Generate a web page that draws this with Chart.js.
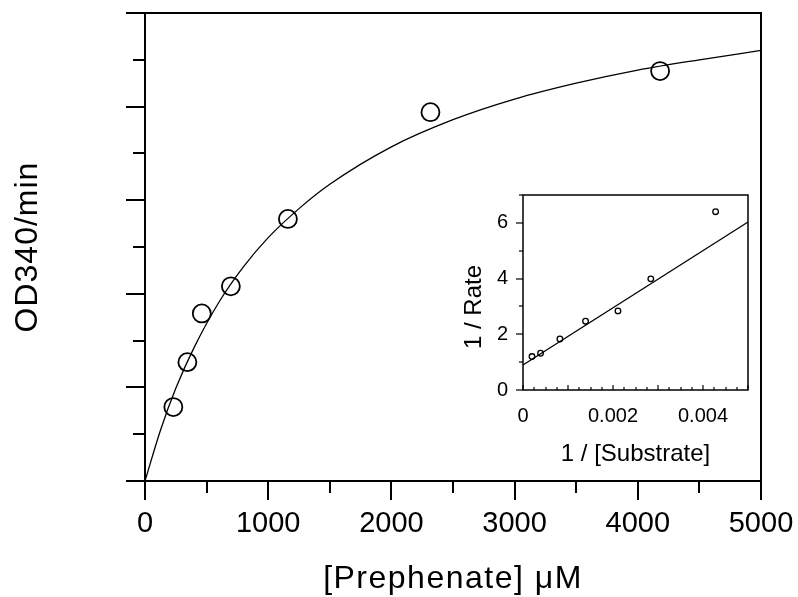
<!DOCTYPE html>
<html>
<head>
<meta charset="utf-8">
<script src="https://cdn.jsdelivr.net/npm/chart.js@4.4.1/dist/chart.umd.min.js"></script>
<style>
    body { margin: 0; background: #fff; }
    #wrap { position: relative; width: 798px; height: 597px; }
    #mainChart { position: absolute; left: 0; top: 0; }
    #insetChart { position: absolute; left: 440px; top: 180px; }
</style>
</head>
<body>
<div id="wrap">
    <canvas id="mainChart" width="798" height="597"></canvas>
    <canvas id="insetChart" width="320" height="300"></canvas>
</div>
<script>
// main plot: rate vs [Prephenate]
const prephenate = [230, 344, 461, 697, 1160, 2317, 4181];
const rate = [0.79, 1.27, 1.79, 2.08, 2.80, 3.94, 4.38];

// fitted curve
const fitX = [0, 125, 250, 400, 600, 800, 1000, 1250, 1500, 2000, 2500, 3000, 3500, 4000, 4500, 5000];
const fitY = [0, 0.54, 0.99, 1.43, 1.91, 2.29, 2.60, 2.91, 3.17, 3.57, 3.86, 4.08, 4.25, 4.39, 4.50, 4.60];

const mainXTicks = [0, 1000, 2000, 3000, 4000, 5000];

// inset: double reciprocal
const invSubstrate = [0.00020, 0.00039, 0.00082, 0.00139, 0.00211, 0.00284, 0.00428];
const invRate = [1.20, 1.32, 1.83, 2.47, 2.84, 3.99, 6.40];
const lineX = [0, 0.005];
const lineY = [0.90, 6.03];

const insetXTicks = [0, 0.002, 0.004];
const insetYTicks = [0, 2, 4, 6];

const FONT = '"Liberation Sans", Arial, sans-serif';

function pairs(xs, ys) {
    return xs.map((x, i) => ({ x: x, y: ys[i] }));
}

function drawText(ctx, text, x, y, size, rotate, spacing) {
    ctx.save();
    ctx.font = size + 'px ' + FONT;
    ctx.fillStyle = '#000';
    ctx.textAlign = 'center';
    ctx.textBaseline = 'middle';
    if (spacing) ctx.letterSpacing = spacing;
    ctx.translate(x, y);
    if (rotate) ctx.rotate(-Math.PI / 2);
    ctx.fillText(text, 0, 0);
    ctx.restore();
}

function tick(ctx, x1, y1, x2, y2) {
    ctx.beginPath();
    ctx.moveTo(x1, y1);
    ctx.lineTo(x2, y2);
    ctx.stroke();
}

const mainFrame = {
    id: 'mainFrame',
    afterDraw(chart) {
        const ctx = chart.ctx;
        const a = chart.chartArea;
        const xs = chart.scales.x, ys = chart.scales.y;
        ctx.save();
        ctx.strokeStyle = '#000';
        ctx.lineWidth = 2;
        ctx.strokeRect(a.left, a.top, a.right - a.left, a.bottom - a.top);
        for (let v = 0; v <= 5000; v += 500) {
            const px = Math.round(xs.getPixelForValue(v));
            tick(ctx, px, a.bottom, px, a.bottom + (v % 1000 === 0 ? 19 : 12));
        }
        for (let i = 0; i <= 10; i++) {
            const py = Math.round(ys.getPixelForValue(i * 0.5));
            tick(ctx, a.left, py, a.left - (i % 2 === 0 ? 19 : 12), py);
        }
        ctx.restore();
        drawText(ctx, 'OD340/min', 28, 247, 32, true, '1px');
        drawText(ctx, '[Prephenate] \u03bcM', (a.left + a.right) / 2, 579, 32, false, '1.5px');
    }
};

const insetFrame = {
    id: 'insetFrame',
    afterDraw(chart) {
        const ctx = chart.ctx;
        const a = chart.chartArea;
        const xs = chart.scales.x, ys = chart.scales.y;
        ctx.save();
        ctx.strokeStyle = '#000';
        ctx.lineWidth = 1.5;
        ctx.strokeRect(a.left, a.top, a.right - a.left, a.bottom - a.top);
        ctx.lineWidth = 1.2;
        for (let i = 0; i <= 20; i++) {
            const px = Math.round(xs.getPixelForValue(i * 0.00025));
            tick(ctx, px, a.bottom, px, a.bottom - (i % 4 === 0 ? 5 : 3));
        }
        for (let v = 0; v <= 7; v++) {
            const py = Math.round(ys.getPixelForValue(v));
            tick(ctx, a.left, py, a.left - (v % 2 === 0 ? 7 : 4), py);
        }
        ctx.restore();
        drawText(ctx, '1 / Rate', 34, 127, 24, true);
        drawText(ctx, '1 / [Substrate]', (a.left + a.right) / 2, 274, 24, false);
    }
};

new Chart(document.getElementById('mainChart').getContext('2d'), {
    type: 'scatter',
    data: {
        datasets: [
            {
                data: pairs(fitX, fitY),
                showLine: true,
                borderColor: '#000',
                borderWidth: 1.3,
                pointRadius: 0,
                cubicInterpolationMode: 'monotone'
            },
            {
                data: pairs(prephenate, rate),
                showLine: false,
                pointRadius: 9,
                pointBorderWidth: 1.8,
                pointBorderColor: '#000',
                pointBackgroundColor: '#fff'
            }
        ]
    },
    options: {
        responsive: false,
        animation: false,
        layout: { padding: { top: 13, right: 37, left: 0, bottom: 0 } },
        plugins: { legend: { display: false }, tooltip: { enabled: false } },
        scales: {
            x: {
                type: 'linear',
                min: 0,
                max: 5000,
                afterBuildTicks: s => { s.ticks = mainXTicks.map(v => ({ value: v })); },
                ticks: { color: '#000', font: { family: FONT, size: 29 }, padding: 26, maxRotation: 0,
                    callback: v => String(v) },
                grid: { display: false, drawTicks: false },
                border: { display: false },
                afterFit: s => { s.height = 116; s.paddingLeft = 0; s.paddingRight = 0; }
            },
            y: {
                min: 0,
                max: 5,
                ticks: { display: false },
                grid: { display: false, drawTicks: false },
                border: { display: false },
                afterFit: s => { s.width = 145; s.paddingTop = 0; s.paddingBottom = 0; }
            }
        }
    },
    plugins: [mainFrame]
});

new Chart(document.getElementById('insetChart').getContext('2d'), {
    type: 'scatter',
    data: {
        datasets: [
            {
                data: pairs(lineX, lineY),
                showLine: true,
                borderColor: '#000',
                borderWidth: 1.2,
                pointRadius: 0
            },
            {
                data: pairs(invSubstrate, invRate),
                showLine: false,
                pointRadius: 2.8,
                pointBorderWidth: 1.3,
                pointBorderColor: '#000',
                pointBackgroundColor: '#fff'
            }
        ]
    },
    options: {
        responsive: false,
        animation: false,
        layout: { padding: { top: 15, right: 12, left: 0, bottom: 0 } },
        plugins: { legend: { display: false }, tooltip: { enabled: false } },
        scales: {
            x: {
                type: 'linear',
                min: 0,
                max: 0.005,
                afterBuildTicks: s => { s.ticks = insetXTicks.map(v => ({ value: v })); },
                ticks: { color: '#000', font: { family: FONT, size: 20 }, padding: 14, maxRotation: 0,
                    callback: v => String(v) },
                grid: { display: false, drawTicks: false },
                border: { display: false },
                afterFit: s => { s.height = 90; s.paddingLeft = 0; s.paddingRight = 0; }
            },
            y: {
                min: 0,
                max: 7,
                afterBuildTicks: s => { s.ticks = insetYTicks.map(v => ({ value: v })); },
                ticks: { color: '#000', font: { family: FONT, size: 20 }, padding: 15 },
                grid: { display: false, drawTicks: false },
                border: { display: false },
                afterFit: s => { s.width = 83; s.paddingTop = 0; s.paddingBottom = 0; }
            }
        }
    },
    plugins: [insetFrame]
});
</script>
</body>
</html>
